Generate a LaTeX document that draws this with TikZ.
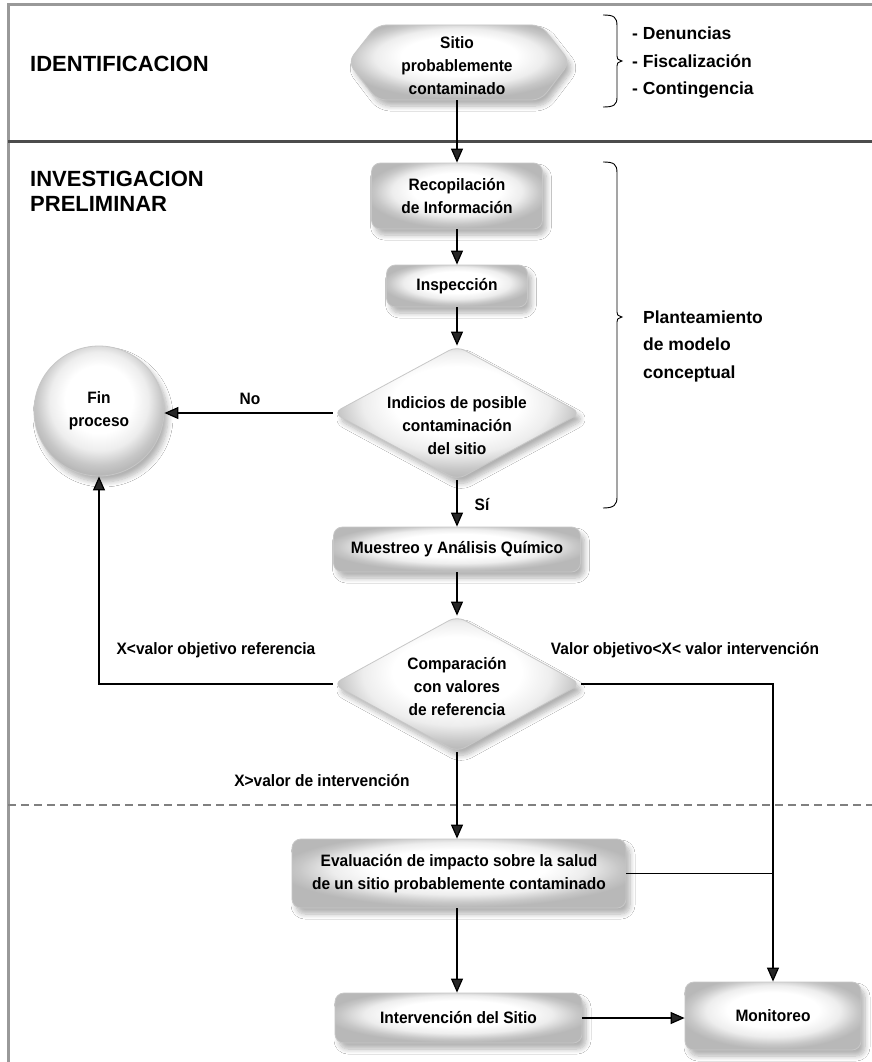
\documentclass[tikz,border=0pt]{standalone}
\usepackage{fontspec}
\setmainfont{Liberation Sans}
\newfontfamily\boxfont[FakeStretch=0.94]{Liberation Sans}
\usetikzlibrary{arrows.meta,shapes.geometric,shadows.blur}

% soft grey body shading: white centre, grey rim
\pgfdeclareradialshading{softgray}{\pgfpoint{0bp}{6bp}}{%
  color(0bp)=(white); color(13bp)=(white); color(19bp)=(black!7);
  color(24bp)=(black!22); color(27bp)=(black!28); color(50bp)=(black!28)}

\begin{document}
\begin{tikzpicture}[x=1pt,y=-1pt,
  every node/.style={font=\boxfont\bfseries\fontsize{16.5}{23}\selectfont, inner sep=0pt},
  body/.style={draw=black!22, line width=0.8pt, shading=softgray,
    blur shadow={shadow xshift=4pt, shadow yshift=-6pt, shadow blur radius=5pt,
      shadow blur steps=8, shadow opacity=30}},
  card/.style={body, rectangle, rounded corners=9pt, align=center},
  test/.style={body, diamond, rounded corners=9pt},
  lbl/.style={align=center},
  flow/.style={line width=1.2pt, -{Triangle[length=14pt,width=12pt]}},
  plain/.style={line width=1.2pt},
  side/.style={font=\normalfont\bfseries\fontsize{17.5}{27.5}\selectfont, align=left, anchor=west},
  title/.style={font=\normalfont\bfseries\fontsize{22}{25}\selectfont, align=left, anchor=west},
  brace/.style={line width=0.9pt}
]
\useasboundingbox (0,0) rectangle (872,1062);
\fill[white] (0,0) rectangle (872,1062);

% frame and section separators
\draw[black!40, line width=3pt] (8,1062) -- (8,5) -- (872,5);
\draw[black!70, line width=2.5pt] (8,141.5) -- (872,141.5);
\draw[black!50, line width=1.5pt, dash pattern=on 8pt off 5pt] (8,805) -- (872,805);

% section titles
\node[title] (tident) at (30,64) {IDENTIFICACION};
\node[title] (tinvest) at (30,191) {INVESTIGACION\\PRELIMINAR};

% start: hexagonal terminal
\path[body, rounded corners=9pt] (348,62) -- (377,25) -- (541,25) -- (570,62)
  -- (541,100) -- (377,100) -- cycle;
\node[lbl, minimum width=222pt, minimum height=68pt] (sitio) at (457,66)
  {Sitio\\probablemente\\contaminado};

% process steps
\node[card, minimum width=171pt, minimum height=66pt] (recop) at (457,196)
  {Recopilación\\de Información};
\node[card, minimum width=141pt, minimum height=42pt] (insp) at (457,286) {Inspección};
\node[test, minimum width=248pt, minimum height=134pt] (indicios) at (457,413) {};
\node[lbl] (indtxt) at (457,426) {Indicios de posible\\contaminación\\del sitio};
\node[body, circle, minimum size=130pt, align=center] (fin) at (99,411) {Fin\\proceso};
\node[card, minimum width=247pt, minimum height=45pt] (muestreo) at (457,549.5)
  {Muestreo y Análisis Químico};
\node[test, minimum width=248pt, minimum height=136pt] (comp) at (457,684) {};
\node[lbl] (comptxt) at (457,687) {Comparación\\con valores\\de referencia};
\node[card, minimum width=334pt, minimum height=69pt] (eval) at (459,873.5)
  {Evaluación de impacto sobre la salud\\de un sitio probablemente contaminado};
\node[card, minimum width=247pt, minimum height=50pt] (interv) at (458.5,1018)
  {Intervención del Sitio};
\node[card, minimum width=176pt, minimum height=68pt] (monit) at (773,1016) {Monitoreo};

% connectors
\draw[flow] (sitio.south) -- (recop.north);
\draw[flow] (recop.south) -- (insp.north);
\draw[flow] (insp.south) -- (indicios.north);
\draw[flow] (indicios.west) -- (indicios.west -| fin.east);
\draw[flow] (indicios.south) -- (muestreo.north);
\draw[flow] (muestreo.south) -- (comp.north);
\draw[flow] (comp.west) -| (fin.south);
\draw[flow] (comp.east) -| (monit.north);
\draw[flow] (comp.south) -- (comp.south |- eval.north);
\draw[plain] (eval.east) -- (eval.east -| monit.north);
\draw[flow] (eval.south -| comp.south) -- (comp.south |- interv.north);
\draw[flow] (interv.east) -- (interv.east -| monit.west);

% branch labels
\node (no) at (250,399) {No};
\node (si) at (482,505) {Sí};
\node (lower) at (216,650) {X<valor objetivo referencia};
\node (middle) at (685,650) {Valor objetivo<X< valor intervención};
\node (upper) at (322,781) {X>valor de intervención};

% braces with their notes
\draw[brace] (603,15) .. controls (614,15) and (617,17) .. (617,26) -- (617,56)
  .. controls (617,59) .. (622,61) .. controls (617,63) .. (617,66) -- (617,97)
  .. controls (617,105) and (614,107) .. (603,107);
\node[side] (origins) at (632,63) {- Denuncias\\- Fiscalización\\- Contingencia};

\draw[brace] (603,162) .. controls (614,162) and (617,164) .. (617,173) -- (617,312)
  .. controls (617,315) .. (622,317) .. controls (617,319) .. (617,322) -- (617,497)
  .. controls (617,505) and (614,508) .. (603,508);
\node[side] (model) at (643,346) {Planteamiento\\de modelo\\conceptual};
\end{tikzpicture}
\end{document}
